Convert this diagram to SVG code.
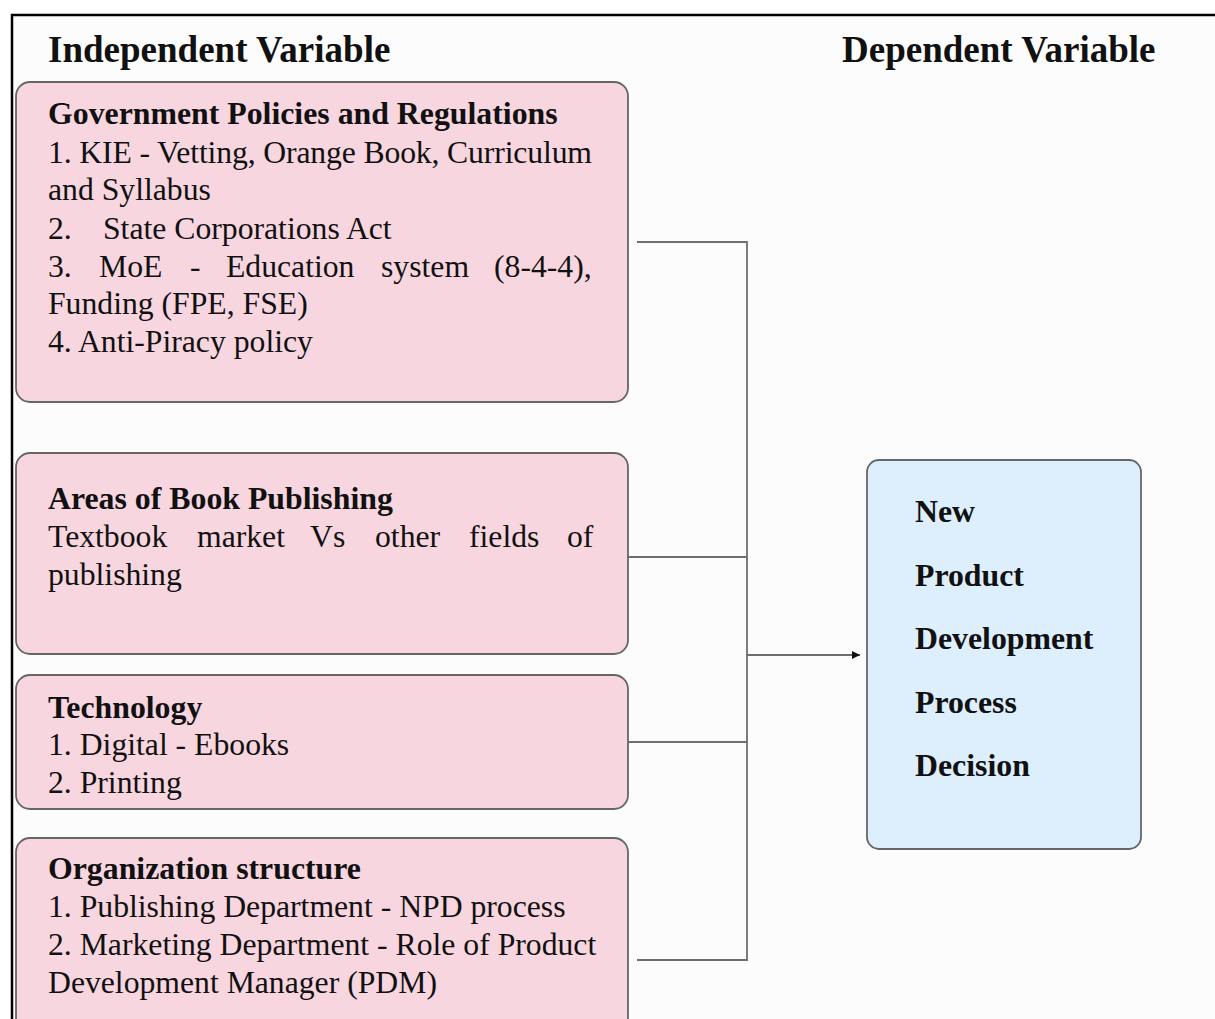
<svg xmlns="http://www.w3.org/2000/svg" width="1215" height="1019" viewBox="0 0 1215 1019">
<defs>
<style>
.bg{fill:#fcfcfc}
.frame{fill:none;stroke:#000;stroke-width:2.5}
.pink{fill:#f8d6e0;stroke:#666;stroke-width:1.8}
.blue{fill:#ddeefd;stroke:#666;stroke-width:1.8}
.conn{fill:none;stroke:#6e6e6e;stroke-width:1.8}
text{font-family:"Liberation Serif","Times New Roman",serif;fill:#111}
.hdr{font-size:37px;font-weight:bold}
.ttl{font-size:31.8px;font-weight:bold}
.body{font-size:31.7px}
</style>
<marker id="arr" viewBox="0 0 10 10" refX="10" refY="5" markerWidth="12" markerHeight="8" markerUnits="userSpaceOnUse" orient="auto">
<path d="M0,0 L10,5 L0,10 z" fill="#111"/>
</marker>
</defs>
<rect x="0" y="0" width="1215" height="1019" fill="#ffffff"/>
<rect class="bg" x="12" y="15" width="1203" height="1004"/>
<path class="frame" d="M12,1019 L12,15 L1215,15"/>
<g id="headers">
<text class="hdr" x="48" y="62">Independent Variable</text>
<text class="hdr" x="842" y="62">Dependent Variable</text>
</g>
<g id="connectors">
<path class="conn" d="M637,242 H747 V960 H637"/>
<path class="conn" d="M628,557 H747"/>
<path class="conn" d="M628,742 H747"/>
<path class="conn" d="M747,655 H860" marker-end="url(#arr)"/>
</g>
<g id="node-government">
<rect class="pink" x="16" y="82" width="612" height="320" rx="14"/>
<text class="ttl" x="48" y="124">Government Policies and Regulations</text>
<text class="body" x="48" y="163" textLength="544" lengthAdjust="spacing">1. KIE - Vetting, Orange Book, Curriculum</text>
<text class="body" x="48" y="200">and Syllabus</text>
<text class="body" y="239"><tspan x="48">2.</tspan><tspan x="103">State Corporations Act</tspan></text>
<text class="body" y="277"><tspan x="48">3.</tspan><tspan x="99">MoE</tspan><tspan x="190">-</tspan><tspan x="226">Education</tspan><tspan x="381">system</tspan><tspan x="494">(8-4-4),</tspan></text>
<text class="body" x="48" y="314">Funding (FPE, FSE)</text>
<text class="body" x="48" y="352">4. Anti-Piracy policy</text>
</g>
<g id="node-areas">
<rect class="pink" x="16" y="453" width="612" height="201" rx="14"/>
<text class="ttl" x="48" y="509">Areas of Book Publishing</text>
<text class="body" y="547"><tspan x="48">Textbook</tspan><tspan x="197">market</tspan><tspan x="310">Vs</tspan><tspan x="375">other</tspan><tspan x="469">fields</tspan><tspan x="567">of</tspan></text>
<text class="body" x="48" y="585">publishing</text>
</g>
<g id="node-technology">
<rect class="pink" x="16" y="675" width="612" height="134" rx="14"/>
<text class="ttl" x="48" y="718">Technology</text>
<text class="body" x="48" y="755">1. Digital - Ebooks</text>
<text class="body" x="48" y="793">2. Printing</text>
</g>
<g id="node-organization">
<rect class="pink" x="16" y="838" width="612" height="210" rx="14"/>
<text class="ttl" x="48" y="879">Organization structure</text>
<text class="body" x="48" y="917">1. Publishing Department - NPD process</text>
<text class="body" x="48" y="955">2. Marketing Department - Role of Product</text>
<text class="body" x="48" y="993">Development Manager (PDM)</text>
</g>
<g id="node-npd">
<rect class="blue" x="867" y="460" width="274" height="389" rx="12"/>
<text class="ttl" x="915" y="522">New</text>
<text class="ttl" x="915" y="586">Product</text>
<text class="ttl" x="915" y="649">Development</text>
<text class="ttl" x="915" y="713">Process</text>
<text class="ttl" x="915" y="776">Decision</text>
</g>
</svg>
